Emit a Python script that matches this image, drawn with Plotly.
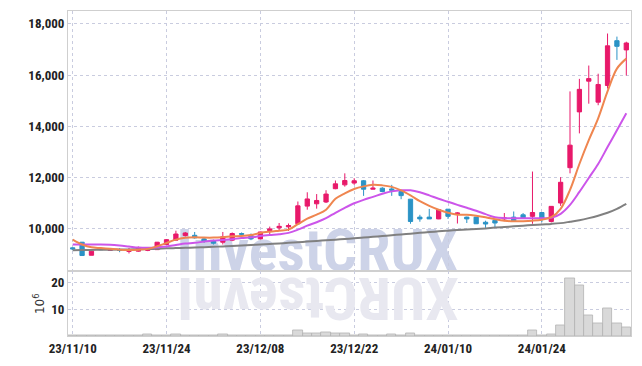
import plotly.graph_objects as go

# ---------------- data ----------------
dates = ["23/11/10", "23/11/13", "23/11/14", "23/11/15", "23/11/16", "23/11/17",
         "23/11/20", "23/11/21", "23/11/22", "23/11/23", "23/11/24",
         "23/11/27", "23/11/28", "23/11/29", "23/11/30", "23/12/01",
         "23/12/04", "23/12/05", "23/12/06", "23/12/07", "23/12/08",
         "23/12/11", "23/12/12", "23/12/13", "23/12/14", "23/12/15",
         "23/12/18", "23/12/19", "23/12/20", "23/12/21", "23/12/22",
         "23/12/26", "23/12/27", "23/12/28", "24/01/02", "24/01/03",
         "24/01/04", "24/01/05", "24/01/08", "24/01/09", "24/01/10",
         "24/01/11", "24/01/12", "24/01/15", "24/01/16", "24/01/17",
         "24/01/18", "24/01/19", "24/01/22", "24/01/23", "24/01/24",
         "24/01/25", "24/01/26", "24/01/29", "24/01/30", "24/01/31",
         "24/02/01", "24/02/02", "24/02/05", "24/02/06"]

opens = [9250, 9470, 8960, 9200, 9150, 9170, 9110, 9120, 9150, 9180,
         9380, 9550, 9730, 9740, 9600, 9530, 9470, 9550, 9810, 9730,
         9600, 9920, 10030, 10070, 10190, 10880, 10970, 11040, 11560, 11710,
         11780, 11870, 11540, 11580, 11550, 11450, 11150, 10450, 10450, 10380,
         10760, 10570, 10450, 10450, 10250, 10320, 10380, 10450, 10540, 10480,
         10630, 10280, 11000, 12380, 14560, 15760, 14940, 15590, 17340, 16980]
highs = [9270, 9480, 9130, 9220, 9240, 9235, 9250, 9300, 9250, 9480,
         9590, 9920, 9870, 9870, 9660, 9570, 9870, 9850, 9850, 9810,
         9880, 10080, 10220, 10200, 11060, 11420, 11350, 11500, 11880, 12160,
         11970, 11900, 11880, 11620, 11710, 11460, 11160, 10540, 10770, 10760,
         10760, 10640, 10470, 10460, 10310, 10330, 10610, 10670, 10610, 12230,
         10640, 10880, 12010, 15360, 15850, 16370, 16050, 17620, 17500, 17300]
lows = [9160, 8950, 8960, 9160, 9140, 9080, 9030, 9100, 9120, 9170,
        9380, 9540, 9690, 9610, 9440, 9380, 9380, 9510, 9720, 9550,
        9590, 9790, 9910, 9910, 10180, 10740, 10780, 11000, 11540, 11640,
        11710, 11280, 11530, 11420, 11280, 11150, 10190, 10270, 10380, 10370,
        10380, 10200, 10220, 10180, 10030, 10050, 10290, 10260, 10380, 10190,
        10250, 10240, 10890, 12160, 13720, 14880, 14820, 15470, 16590, 15980]
closes = [9210, 8950, 9120, 9180, 9220, 9150, 9180, 9250, 9210, 9470,
          9570, 9790, 9830, 9640, 9510, 9430, 9680, 9810, 9780, 9600,
          9870, 9990, 10090, 10120, 10890, 11160, 11100, 11350, 11750, 11880,
          11870, 11540, 11580, 11450, 11500, 11290, 10280, 10380, 10380, 10740,
          10480, 10610, 10380, 10190, 10180, 10220, 10420, 10280, 10420, 10630,
          10380, 10870, 11810, 13260, 15440, 15860, 15630, 17140, 17120, 17250]

# volume in millions of shares
volume = [0.2, 0.3, 0.2, 0.1, 0.1, 0.1, 0.1, 0.1, 0.5, 0.1,
          0.2, 0.5, 0.1, 0.1, 0.1, 0.1, 0.5, 0.1, 0.1, 0.1,
          0.3, 0.3, 0.4, 0.4, 2.1, 1.1, 0.8, 1.4, 1.1, 1.1,
          0.4, 0.7, 0.4, 0.4, 0.7, 0.4, 1.1, 0.4, 0.4, 0.4,
          0.4, 0.4, 0.4, 0.4, 0.3, 0.2, 0.4, 0.4, 0.4, 2.1,
          0.4, 0.7, 4.0, 21.5, 18.8, 7.7, 4.5, 10.4, 4.5, 3.3]

ma_short = [9570, 9380, 9270, 9240, 9210, 9180, 9170, 9180, 9210, 9310,
            9440, 9570, 9640, 9660, 9650, 9650, 9670, 9700, 9710, 9750,
            9830, 9880, 9920, 9960, 10175, 10390, 10545, 10740, 11165, 11380,
            11550, 11650, 11710, 11690, 11630, 11495, 11300, 11070, 10890, 10740,
            10620, 10545, 10545, 10505, 10445, 10370, 10310, 10285, 10290, 10310,
            10350, 10445, 10775, 11515, 12525, 13456, 14310, 15360, 16250, 16640]
ma_mid = [9380, 9380, 9380, 9380, 9370, 9340, 9300, 9260, 9250, 9270,
          9300, 9360, 9420, 9445, 9495, 9535, 9560, 9590, 9630, 9660,
          9710, 9750, 9785, 9835, 9960, 10115, 10250, 10410, 10620, 10815,
          10990, 11125, 11240, 11360, 11455, 11495, 11495, 11420, 11300, 11165,
          11050, 10930, 10815, 10700, 10565, 10445, 10410, 10410, 10410, 10410,
          10410, 10425, 10580, 10930, 11435, 11980, 12525, 13185, 13845, 14505]
ma_long = [9160, 9165, 9170, 9175, 9180, 9185, 9190, 9195, 9200, 9210,
           9230, 9240, 9250, 9260, 9275, 9290, 9305, 9320, 9340, 9360,
           9380, 9400, 9420, 9445, 9470, 9495, 9520, 9545, 9570, 9595,
           9620, 9650, 9680, 9710, 9740, 9775, 9805, 9835, 9865, 9895,
           9920, 9945, 9965, 9985, 10010, 10040, 10065, 10090, 10115, 10140,
           10165, 10185, 10215, 10270, 10330, 10410, 10505, 10620, 10775, 10970]

price_ticks = [10000, 12000, 14000, 16000, 18000]
price_tick_text = ["10,000", "12,000", "14,000", "16,000", "18,000"]
vol_ticks = [10, 20]
date_ticks = [dates[i] for i in range(0, len(dates), 10)]

# ---------------- styling ----------------
COND = "Roboto Condensed, Liberation Sans Narrow, Roboto, sans-serif"
TICK_FONT = dict(family=COND, size=13, color="#222222", weight="bold")
GRID = "#c9ccdf"
FRAME = "#cfcfcf"
UP = "#e8196a"
DOWN = "#2b93c6"

fig = go.Figure()

# watermark (drawn first, in its own background subplot, below the data)
fig.add_trace(go.Scatter(
    x=[0.443], y=[0.245], mode="text", text=["InvestCRUX"],
    textposition="middle center",
    textfont=dict(family=COND, size=60, color="#cdd3e8", weight="bold"),
    xaxis="x", yaxis="y", hoverinfo="skip", showlegend=False))

fig.add_trace(go.Candlestick(
    x=dates, open=opens, high=highs, low=lows, close=closes,
    increasing=dict(line=dict(color=UP, width=1), fillcolor=UP),
    decreasing=dict(line=dict(color=DOWN, width=1), fillcolor=DOWN),
    whiskerwidth=0, xaxis="x2", yaxis="y2", showlegend=False))

fig.add_trace(go.Scatter(x=dates, y=ma_long, mode="lines",
                         line=dict(color="#808080", width=2, shape="spline"),
                         xaxis="x2", yaxis="y2", showlegend=False))
fig.add_trace(go.Scatter(x=dates, y=ma_mid, mode="lines",
                         line=dict(color="#cc55ea", width=2, shape="spline"),
                         xaxis="x2", yaxis="y2", showlegend=False))
fig.add_trace(go.Scatter(x=dates, y=ma_short, mode="lines",
                         line=dict(color="#ef8650", width=2, shape="spline"),
                         xaxis="x2", yaxis="y2", showlegend=False))

fig.add_trace(go.Bar(x=dates, y=volume,
                     marker=dict(color="#d9d9d9", line=dict(color="#b3b3b3", width=0.8)),
                     xaxis="x3", yaxis="y3", showlegend=False))

vol_dom = 65 / 327

fig.update_layout(
    width=642, height=366,
    margin=dict(l=68, r=10, t=10, b=29),
    paper_bgcolor="white", plot_bgcolor="rgba(255,255,255,0)",
    bargap=0, boxgap=0.35,
    xaxis=dict(domain=[0, 1], range=[0, 1], visible=False, fixedrange=True),
    yaxis=dict(domain=[0, 1], range=[0, 1], visible=False, fixedrange=True),
    xaxis2=dict(domain=[0, 1], anchor="y2", type="category",
                range=[-0.5, len(dates) - 0.5], rangeslider=dict(visible=False),
                tickvals=date_ticks, showticklabels=False, ticks="",
                showgrid=True, gridcolor=GRID, griddash="dot", gridwidth=1,
                showline=True, linecolor=FRAME, linewidth=1, mirror=True,
                zeroline=False),
    yaxis2=dict(domain=[vol_dom, 1], anchor="x2", range=[8330, 18500],
                tickvals=price_ticks, ticktext=price_tick_text, tickfont=TICK_FONT,
                ticks="", showgrid=True, gridcolor=GRID, griddash="dot", gridwidth=1,
                showline=True, linecolor=FRAME, linewidth=1, mirror=True,
                zeroline=False),
    xaxis3=dict(domain=[0, 1], anchor="y3", type="category",
                range=[-0.5, len(dates) - 0.5],
                tickvals=date_ticks, ticktext=date_ticks, tickfont=TICK_FONT,
                ticks="", showgrid=True, gridcolor=GRID, griddash="dot", gridwidth=1,
                showline=True, linecolor=FRAME, linewidth=1, mirror=True,
                zeroline=False),
    yaxis3=dict(domain=[0, vol_dom], anchor="x3", range=[0, 24],
                tickvals=vol_ticks, tickfont=TICK_FONT, ticks="",
                showgrid=True, gridcolor=GRID, griddash="dot", gridwidth=1,
                showline=True, linecolor=FRAME, linewidth=1, mirror=True,
                zeroline=False,
                title=dict(text="10<sup>6</sup>", standoff=4,
                           font=dict(family="DejaVu Sans, sans-serif", size=12,
                                     color="#333333"))),
    annotations=[dict(
        xref="paper", yref="paper", x=0.443, y=0.0,
        text="XURCtsevnI", textangle=180, showarrow=False,
        font=dict(family=COND, size=60, color="#e8e8f0", weight="bold"))],
)

post = "document.body.style.margin = '0';"

fig.write_html("out.html", post_script=post,
               config={"displayModeBar": False})
